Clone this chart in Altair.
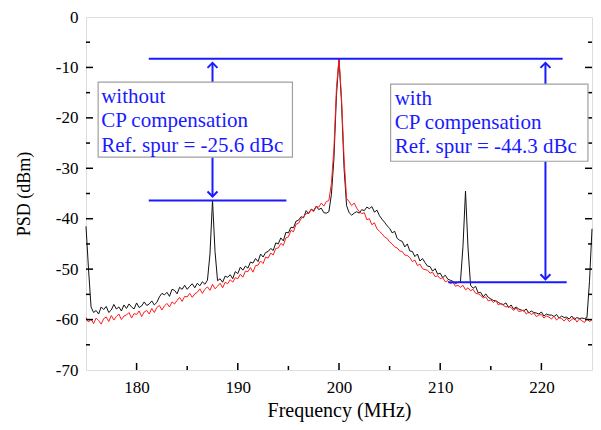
import altair as alt
import pandas as pd

# ---------------- data ----------------
step = 0.25
freq = [175 + step * i for i in range(201)]

psd_without = [
    -41.5, -50.0, -57.5, -58.6,
    -58.2, -58.9, -57.5, -58.0,
    -57.4, -58.6, -58.1, -57.0,
    -57.9, -57.5, -58.3, -57.1,
    -57.8, -56.9, -57.5, -57.9,
    -56.7, -57.6, -57.3, -56.5,
    -57.2, -56.9, -56.3, -57.1,
    -56.6, -55.5, -54.8, -55.1,
    -54.6, -55.4, -54.0, -54.2,
    -54.9, -53.6, -54.0, -53.2,
    -54.0, -53.4, -52.9, -53.7,
    -52.8, -53.3, -52.5, -53.0,
    -52.2, -47.0, -36.3, -46.5,
    -52.3, -51.9, -52.6, -51.4,
    -51.6, -51.1, -51.9, -50.5,
    -50.9, -49.6, -50.2, -49.4,
    -49.8, -48.6, -48.8, -47.9,
    -48.5, -47.0, -47.6, -46.7,
    -46.5, -45.9, -46.3, -44.8,
    -45.0, -43.8, -44.4, -42.7,
    -42.8, -41.7, -41.8, -40.5,
    -40.3, -39.6, -39.8, -38.4,
    -39.0, -38.1, -38.4, -37.5,
    -38.2, -37.9, -38.8, -38.9,
    -38.6, -35.2, -28.0, -15.5,
    -8.3, -17.0, -30.0, -37.4,
    -38.8, -39.3, -38.9, -38.6,
    -38.9, -38.2, -38.4, -37.7,
    -38.0, -37.6, -38.7, -38.3,
    -39.4, -40.1, -40.7, -41.4,
    -41.9, -42.8, -42.5, -43.9,
    -44.3, -44.5, -45.6, -45.0,
    -46.4, -46.5, -47.5, -47.0,
    -48.4, -47.9, -48.7, -49.4,
    -49.5, -50.4, -49.9, -51.0,
    -50.8, -51.7, -51.2, -52.0,
    -52.2, -52.4, -52.9, -52.6,
    -52.5, -45.5, -34.5, -45.8,
    -53.2, -53.8, -53.4, -54.7,
    -54.6, -55.5, -54.9, -55.6,
    -55.9, -56.2, -56.3, -56.6,
    -56.9, -57.0, -56.7, -57.6,
    -57.1, -57.9, -57.5, -57.9,
    -58.1, -58.3, -57.9, -58.7,
    -58.3, -58.6, -58.7, -58.9,
    -58.5, -59.3, -58.9, -59.1,
    -59.1, -59.4, -59.0, -59.7,
    -59.3, -59.6, -59.5, -59.9,
    -59.3, -60.0, -59.6, -59.8,
    -59.7, -59.8, -59.6, -52.5,
    -42.0,
]

psd_with = [
    -59.6, -60.5, -59.9, -60.8,
    -59.7, -60.2, -60.9, -59.8,
    -59.5, -60.4, -59.2, -60.1,
    -59.4, -58.9, -60.0, -59.3,
    -59.1, -58.6, -59.7, -58.8,
    -59.0, -58.3, -59.4, -58.5,
    -58.2, -58.9, -57.8, -58.6,
    -57.6, -57.2, -58.1, -57.3,
    -56.8, -57.5, -56.5, -56.9,
    -56.2, -55.6, -56.4, -55.4,
    -55.5, -54.8, -55.6, -54.9,
    -54.6, -53.9, -54.8, -54.0,
    -53.5, -54.2, -53.0, -53.9,
    -53.4, -52.8, -53.7, -52.6,
    -52.9, -52.1, -52.6, -51.7,
    -51.9, -51.0, -51.6, -50.4,
    -50.5, -49.7, -50.6, -49.3,
    -49.2, -48.4, -48.9, -47.6,
    -47.8, -46.8, -47.2, -45.9,
    -45.8, -44.9, -45.3, -43.8,
    -43.6, -42.3, -42.6, -41.1,
    -40.9, -40.0, -39.6, -39.0,
    -38.9, -38.2, -38.6, -37.6,
    -37.7, -36.9, -37.5, -36.6,
    -36.4, -33.0, -26.0, -14.0,
    -8.2, -16.0, -28.0, -36.0,
    -36.6, -37.4, -36.9, -37.9,
    -38.6, -39.0, -38.8, -40.2,
    -40.0, -41.2, -40.8, -42.0,
    -42.5, -43.0, -43.6, -43.9,
    -44.6, -45.0, -45.6, -45.8,
    -46.4, -46.5, -47.2, -47.3,
    -47.7, -48.5, -48.2, -49.3,
    -49.0, -49.9, -50.1, -50.2,
    -50.8, -50.6, -51.5, -51.3,
    -51.9, -51.7, -52.5, -52.3,
    -52.9, -52.6, -53.4, -53.2,
    -53.6, -53.2, -54.1, -53.7,
    -54.3, -54.0, -54.8, -54.9,
    -55.2, -55.7, -55.5, -56.3,
    -56.1, -56.6, -56.2, -57.1,
    -56.8, -57.2, -57.5, -57.4,
    -57.6, -58.2, -57.7, -58.4,
    -58.3, -58.1, -58.9, -58.5,
    -59.0, -58.7, -59.4, -59.1,
    -59.0, -59.7, -59.3, -59.5,
    -59.9, -59.3, -60.1, -59.6,
    -59.8, -60.3, -59.7, -60.4,
    -60.0, -59.6, -60.5, -59.9,
    -60.2, -60.6, -59.8, -60.4,
    -60.0,
]

x_labels = [180, 190, 200, 210, 220]
x_minor = [185, 195, 205, 215]
y_labels = [-70, -60, -50, -40, -30, -20, -10, 0]
y_major_inner = [-60, -50, -40, -30, -20, -10]
y_minor = [-65, -55, -45, -35, -25, -15, -5]

# annotation geometry (data units)
hline_x = [181.2, 181.2, 210.8]
hline_x2 = [222.1, 194.8, 222.5]
hline_y = [-8.3, -36.4, -52.6]

shaft_x = [187.5, 187.5, 220.4, 220.4]
shaft_y = [-9.1, -27.8, -9.1, -28.6]
shaft_y2 = [-12.9, -35.6, -13.3, -52.0]

head_x = [187.5, 220.4, 187.5, 220.4]
head_y = [-9.1, -9.1, -35.6, -52.0]
head_dir = ["up", "up", "down", "down"]

box_x = [176.2, 205.1]
box_x2 = [195.4, 224.6]
box_y = [-12.9, -13.3]
box_y2 = [-27.8, -28.6]

label_x = [176.5, 176.5, 176.5, 205.5, 205.5, 205.5]
label_y = [-17.05, -21.8, -26.7, -17.45, -22.2, -26.9]
label_text = ["without", "CP compensation", "Ref. spur = -25.6 dBc",
              "with", "CP compensation", "Ref. spur = -44.3 dBc"]

# ---------------- chart ----------------
W, H = 506, 353
FONT = "Liberation Serif"
BLUE = "#1a1aff"

xs = alt.Scale(domain=[175, 225], nice=False, zero=False)
ys = alt.Scale(domain=[-70, 0], nice=False, zero=False)

XAX = alt.Axis(values=x_labels, title="Frequency (MHz)", ticks=False,
               domain=False, grid=False, labelPadding=9,
               titlePadding=5, titleFontSize=20, labelFontSize=17,
               labelFont=FONT, titleFont=FONT, titleFontWeight="normal",
               labelColor="black", titleColor="black")
YAX = alt.Axis(values=y_labels, title="PSD (dBm)", ticks=False,
               domain=False, grid=False, labelPadding=8,
               titlePadding=22, titleFontSize=18, labelFontSize=17,
               labelFont=FONT, titleFont=FONT, titleFontWeight="normal",
               labelColor="black", titleColor="black",
               labelExpr="'' + datum.value")


def X(field):
    return alt.X(field, scale=xs, axis=XAX)


def Y(field):
    return alt.Y(field, scale=ys, axis=YAX)


traces = pd.DataFrame({
    "f": freq * 2,
    "psd": psd_without + psd_with,
    "s": ["without"] * len(freq) + ["with"] * len(freq),
})

black_line = alt.Chart(traces).transform_filter(alt.datum.s == "without").mark_line(
    color="#111111", strokeWidth=1
).encode(x=X("f:Q"), y=Y("psd:Q"))

red_line = alt.Chart(traces).transform_filter(alt.datum.s == "with").mark_line(
    color="#ff1a1a", strokeWidth=1
).encode(x=X("f:Q"), y=Y("psd:Q"))


# inward ticks
def yticks(vals, length, right=False):
    df = pd.DataFrame({"v": vals})
    if right:
        xa, xb = W, W - length
    else:
        xa, xb = 0, length
    return alt.Chart(df).mark_rule(color="black", strokeWidth=1.5).encode(
        y=Y("v:Q"), x=alt.value(xa), x2=alt.value(xb),
    )


def xticks(vals, length):
    df = pd.DataFrame({"v": vals})
    return alt.Chart(df).mark_rule(color="black", strokeWidth=1.5).encode(
        x=X("v:Q"), y=alt.value(H), y2=alt.value(H - length),
    )


ticks = [
    yticks(y_major_inner, 7), yticks(y_minor, 4),
    yticks(y_major_inner, 7, right=True), yticks(y_minor, 4, right=True),
    xticks(x_labels, 7), xticks(x_minor, 4),
]

boxes = alt.Chart(pd.DataFrame({"x": box_x, "x2": box_x2, "y": box_y, "y2": box_y2})).mark_rect(
    fill="white", stroke="#a0a0a0", strokeWidth=1.2
).encode(x=X("x:Q"), x2="x2:Q", y=Y("y:Q"), y2="y2:Q")

hlines = alt.Chart(pd.DataFrame({"x": hline_x, "x2": hline_x2, "y": hline_y})).mark_rule(
    color=BLUE, strokeWidth=2
).encode(x=X("x:Q"), x2="x2:Q", y=Y("y:Q"))

shafts = alt.Chart(pd.DataFrame({"x": shaft_x, "y": shaft_y, "y2": shaft_y2})).mark_rule(
    color=BLUE, strokeWidth=2
).encode(x=X("x:Q"), y=Y("y:Q"), y2="y2:Q")

heads_df = pd.DataFrame({"x": head_x, "y": head_y, "d": head_dir})
heads_up = alt.Chart(heads_df).transform_filter(alt.datum.d == "up").mark_point(
    shape="M-1,1L0,0L1,1", filled=False, color=BLUE, strokeWidth=2, size=100, opacity=1
).encode(x=X("x:Q"), y=Y("y:Q"))
heads_down = alt.Chart(heads_df).transform_filter(alt.datum.d == "down").mark_point(
    shape="M-1,-1L0,0L1,-1", filled=False, color=BLUE, strokeWidth=2, size=100, opacity=1
).encode(x=X("x:Q"), y=Y("y:Q"))

labels = alt.Chart(pd.DataFrame({"x": label_x, "y": label_y, "t": label_text})).mark_text(
    align="left", baseline="alphabetic", font=FONT, fontSize=21, color=BLUE
).encode(x=X("x:Q"), y=Y("y:Q"), text="t:N")

chart = alt.layer(
    black_line, red_line, *ticks, hlines, shafts, boxes, heads_up, heads_down, labels
).properties(
    width=W, height=H,
    autosize=alt.AutoSizeParams(type="none"),
    padding={"left": 78, "top": 9, "right": 1, "bottom": 52},
).configure_view(
    stroke="black", strokeWidth=1.5
).configure(background="white")

chart.save("out.html", embed_options={"renderer": "svg", "actions": False})
